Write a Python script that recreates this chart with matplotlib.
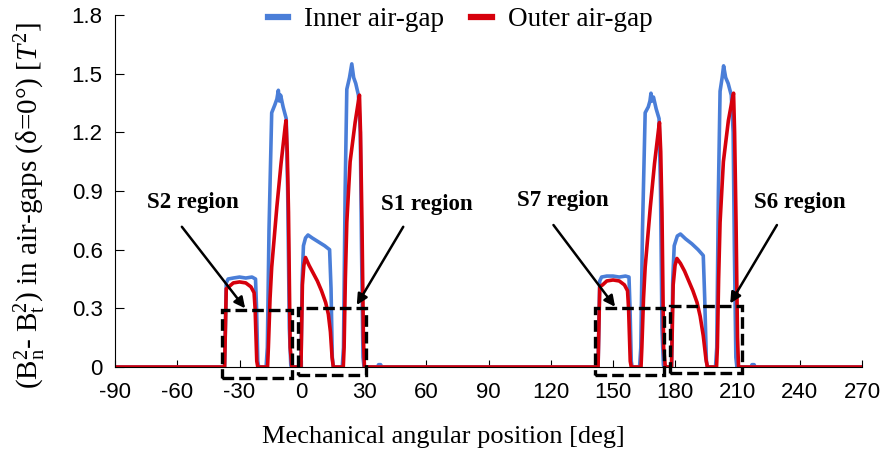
import matplotlib
matplotlib.use('Agg')
import matplotlib.pyplot as plt
from matplotlib.patches import Rectangle

plt.rcParams['font.family'] = 'Liberation Serif'
plt.rcParams['mathtext.fontset'] = 'custom'
plt.rcParams['mathtext.rm'] = 'Liberation Serif'
plt.rcParams['mathtext.it'] = 'Liberation Serif:italic'

# values (angle in deg, B^2 difference in T^2)
inner_deg = [-90, -37.2, -36.4, -35.5, -33, -30, -27, -24, -22.3, -21.8, -21.2, -20.8,
             -17.2, -16.6, -15.8, -14.5, -13, -12, -11.3, -10.8, -10.2, -9, -7.5, -6.8, -6, -5.3, -5,
             -0.4, 0.2, 0.8, 1.8, 3, 5, 8, 11, 13.4, 14.1, 14.7, 15.2,
             19.5, 20.1, 20.9, 21.7, 23, 24.1, 25, 26, 27.3, 28.2, 28.8, 29.5, 30,
             36.5, 37, 38, 38.5,
             142.8, 143.6, 144.5, 147, 150, 153, 156, 157.7, 158.2, 158.8, 159.2,
             162.8, 163.4, 164.2, 165.5, 167, 167.8, 168.3, 168.8, 169.5, 170.8, 172.2, 172.9, 173.6, 174.3, 174.6,
             178.2, 178.8, 179.5, 181, 182.5, 185, 188, 191, 193.5, 194.2, 195.0, 195.5,
             199.4, 200.0, 200.8, 201.6, 202.6, 203.3, 204.3, 205.5, 207, 207.9, 208.5, 209.2, 209.7,
             216.5, 217, 218, 218.5, 270]
inner_val = [0, 0, 0.43, 0.45, 0.455, 0.46, 0.455, 0.46, 0.45, 0.3, 0.03, 0,
             0, 0.1, 0.7, 1.30, 1.34, 1.37, 1.415, 1.36, 1.39, 1.33, 1.27, 0.9, 0.2, 0.01, 0,
             0, 0.45, 0.62, 0.66, 0.675, 0.66, 0.64, 0.62, 0.60, 0.4, 0.05, 0,
             0, 0.1, 0.9, 1.42, 1.48, 1.55, 1.48, 1.45, 1.39, 1.2, 0.6, 0.05, 0,
             0, 0.012, 0.012, 0,
             0, 0.44, 0.46, 0.465, 0.465, 0.46, 0.465, 0.46, 0.3, 0.03, 0,
             0, 0.1, 0.7, 1.30, 1.33, 1.36, 1.40, 1.36, 1.38, 1.32, 1.27, 0.9, 0.2, 0.01, 0,
             0, 0.45, 0.62, 0.67, 0.68, 0.655, 0.63, 0.60, 0.57, 0.35, 0.03, 0,
             0, 0.1, 0.9, 1.41, 1.48, 1.54, 1.48, 1.45, 1.39, 1.2, 0.6, 0.05, 0,
             0, 0.012, 0.012, 0, 0]

outer_deg = [-90, -37.2, -36.4, -35.2, -33, -30, -27, -24.5, -23, -22.5, -21.7, -21.2,
             -16.5, -16.1, -15.3, -14.5, -12, -10, -8.0, -7.6, -7.0, -6.4, -5.6, -4.8,
             -0.4, 0.3, 1.0, 1.8, 3.5, 5.5, 7.5, 9.5, 11.5, 12.8, 13.8, 14.6, 15.2,
             20.0, 20.4, 21.0, 21.7, 23.3, 25.7, 27.3, 27.8, 28.3, 29.0, 29.7, 30.2,
             142.8, 143.6, 145, 147, 150, 153, 155.5, 157, 157.5, 158.3, 158.8,
             163.5, 163.9, 164.7, 165.5, 168, 170, 172, 172.4, 173, 173.6, 174.4, 175.2,
             178.2, 179.0, 179.9, 180.8, 182.5, 184.5, 186.5, 188.5, 190.5, 192, 193.5, 194.8, 195.5,
             199.9, 200.3, 200.9, 201.6, 203.2, 205.6, 207.5, 208.1, 208.6, 209.3, 210.0, 210.5, 270]
outer_val = [0, 0, 0.40, 0.41, 0.43, 0.435, 0.43, 0.41, 0.38, 0.3, 0.03, 0,
             0, 0.10, 0.35, 0.51, 0.82, 1.04, 1.23, 1.26, 1.1, 0.79, 0.1, 0,
             0, 0.42, 0.52, 0.56, 0.52, 0.48, 0.44, 0.39, 0.33, 0.27, 0.18, 0.05, 0,
             0, 0.10, 0.45, 0.74, 1.05, 1.25, 1.36, 1.39, 1.2, 0.74, 0.15, 0,
             0, 0.41, 0.42, 0.44, 0.445, 0.44, 0.42, 0.39, 0.3, 0.03, 0,
             0, 0.10, 0.35, 0.51, 0.82, 1.04, 1.22, 1.25, 1.1, 0.79, 0.1, 0,
             0, 0.42, 0.52, 0.555, 0.53, 0.49, 0.44, 0.39, 0.33, 0.26, 0.16, 0.04, 0,
             0, 0.10, 0.45, 0.74, 1.05, 1.26, 1.37, 1.40, 1.2, 0.74, 0.15, 0, 0]

x_ticks = list(range(-90, 271, 30))
y_ticks = [0, 0.3, 0.6, 0.9, 1.2, 1.5, 1.8]
y_tick_labels = ['0', '0.3', '0.6', '0.9', '1.2', '1.5', '1.8']

region_names = ['S2 region', 'S1 region', 'S7 region', 'S6 region']

blue = '#4a7ed8'
red = '#d6000c'

fig = plt.figure(figsize=(8.85, 4.62), dpi=100)
ax = fig.add_axes([0.130, 0.2056, 0.844, 0.762])

ax.plot(inner_deg, inner_val, color=blue, lw=2.6, label='Inner air-gap')
ax.plot(outer_deg, outer_val, color=red, lw=2.6, label='Outer air-gap')

ax.set_xlim(-90, 270)
ax.set_ylim(0, 1.8)
ax.set_xticks(x_ticks)
ax.set_xticklabels([str(t) for t in x_ticks], family='Liberation Sans', fontsize=16)
ax.set_yticks(y_ticks)
ax.set_yticklabels(y_tick_labels, family='Liberation Sans', fontsize=16)
ax.tick_params(axis='x', direction='in', length=5, pad=11)
ax.tick_params(axis='y', direction='in', length=6.5, pad=9)
for s in ['top', 'right']:
    ax.spines[s].set_visible(False)

# dashed region boxes: (x0, x1, y0, y1)
boxes = [(-38.6, -4.8, -0.055, 0.291), (-1.6, 31, -0.042, 0.303),
         (141.1, 174.7, -0.04, 0.30), (177.6, 212.2, -0.033, 0.31)]
for x0, x1, y0, y1 in boxes:
    ax.add_patch(Rectangle((x0, y0), x1 - x0, y1 - y0, fill=False, ec='black',
                           lw=2.4, ls=(0, (3.5, 1.5)), clip_on=False, zorder=5))

# labels and arrows
txt_pos = [(-52.6, 0.84), (60.3, 0.83), (125.8, 0.85), (239.8, 0.84)]
arr_from = [(-57.8, 0.717), (48.9, 0.717), (121.3, 0.726), (229, 0.726)]
arr_to = [(-27.3, 0.30), (26.5, 0.317), (151, 0.308), (206.5, 0.325)]
for name, tp, af, at in zip(region_names, txt_pos, arr_from, arr_to):
    ax.text(tp[0], tp[1], name, ha='center', va='center', fontsize=16.5, fontweight='bold')
    ax.annotate('', xy=at, xytext=af,
                arrowprops=dict(arrowstyle='-|>', color='black', lw=1.8,
                                mutation_scale=16, shrinkA=0, shrinkB=0))

fig.legend(loc='center', bbox_to_anchor=(0.52, 0.957), ncol=2, frameon=False,
           fontsize=19.5, handlelength=0.75, handletextpad=0.6, columnspacing=1.0,
           borderpad=0)
for h in fig.legends[0].get_lines():
    h.set_linewidth(4.5)

fig.text(0.501, 1 - 437 / 462, 'Mechanical angular position [deg]', ha='center',
         va='center', fontsize=19)
fig.text(0.034, 0.556,
         r'(B$_\mathregular{n}^\mathregular{2}$- B$_\mathregular{t}^\mathregular{2}$) in air-gaps (δ=0°) [$T^2$]',
         rotation=90, ha='center', va='center', fontsize=21)

fig.savefig('out.png', dpi=100)
